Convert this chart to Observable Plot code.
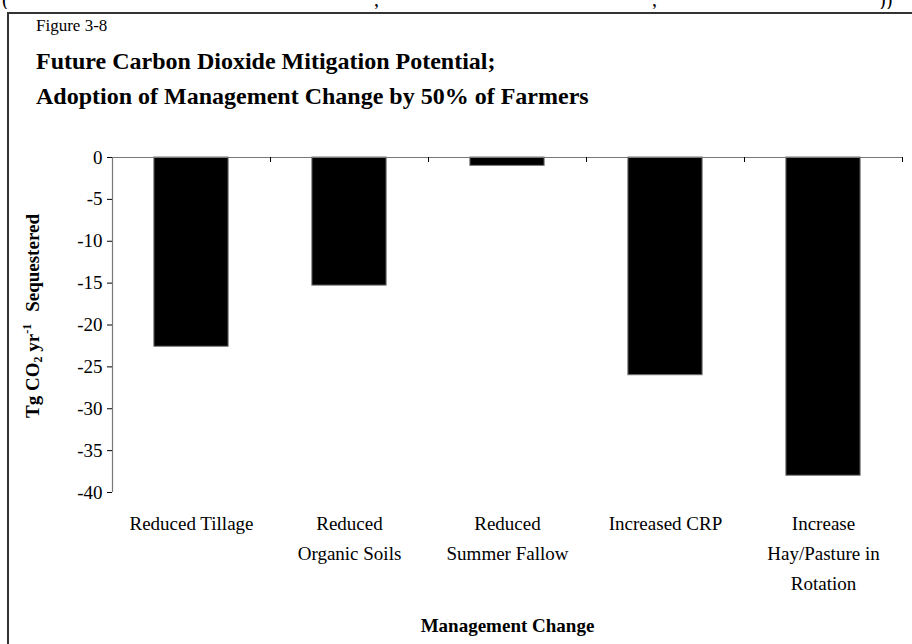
<!DOCTYPE html>
<html>
<head>
<meta charset="utf-8">
<script src="https://cdn.jsdelivr.net/npm/d3@7"></script>
<script src="https://cdn.jsdelivr.net/npm/@observablehq/plot@0.6"></script>
<style>
  html, body { margin: 0; padding: 0; background: white; }
  #page { position: relative; width: 912px; height: 644px; overflow: hidden; font-family: "Liberation Serif", "Times New Roman", serif; color: black; background: white; }
  .abs { position: absolute; white-space: nowrap; line-height: 1; }
  #frame { position: absolute; left: 7px; top: 12px; width: 910px; height: 640px; border-left: 2px solid #333; border-top: 2px solid #333; pointer-events: none; }
  #clip { position: absolute; left: 0; top: 0; width: 912px; height: 9px; overflow: hidden; }
  #clip span { position: absolute; top: -11px; font-size: 20px; line-height: 1; }
  #chart { position: absolute; left: 0; top: 130px; }
  #chart svg text { font-family: "Liberation Serif", "Times New Roman", serif; }
</style>
</head>
<body>
<div id="page">
  <div id="clip"><span style="left:2px">(</span><span style="left:374px">,</span><span style="left:652px">,</span><span style="left:879px">))</span></div>
  <div id="chart"></div>
  <div id="frame"></div>
  <div class="abs" style="left:36px; top:17px; font-size:17px;">Figure 3-8</div>
  <div class="abs" style="left:36px; top:49px; font-size:24px; font-weight:bold;">Future Carbon Dioxide Mitigation Potential;</div>
  <div class="abs" style="left:36px; top:84px; font-size:24px; font-weight:bold;">Adoption of Management Change by 50% of Farmers</div>
</div>
<script>
const categories = [
  "Reduced Tillage",
  "Reduced\nOrganic Soils",
  "Reduced\nSummer Fallow",
  "Increased CRP",
  "Increase\nHay/Pasture in\nRotation"
];
const values = [-22.6, -15.3, -1.0, -26.0, -38.0];
const yTicks = [0, -5, -10, -15, -20, -25, -30, -35, -40];

const data = categories.map((c, i) => ({category: c, index: i, value: values[i]}));
const boundaries = d3.range(1, categories.length + 1);
const half = 0.235;
const serif = "Liberation Serif, Times New Roman, serif";

const plot = Plot.plot({
  width: 912,
  height: 514,
  marginLeft: 112,
  marginRight: 10,
  marginTop: 27,
  marginBottom: 152,
  style: {fontFamily: serif, fontSize: "19px", color: "black", background: "transparent", overflow: "visible"},
  x: {type: "linear", domain: [0, categories.length], axis: null},
  y: {type: "linear", domain: [-40, 0], ticks: yTicks, axis: null},
  marks: [
    Plot.rectY(data, {x1: d => d.index + 0.5 - half, x2: d => d.index + 0.5 + half, y1: 0, y2: "value", fill: "black", stroke: "#777", strokeWidth: 1}),
    Plot.ruleY([0], {stroke: "#777", strokeWidth: 1.2}),
    Plot.ruleX([0], {y1: -40, y2: 0, stroke: "#777", strokeWidth: 1.2}),
    Plot.ruleX(boundaries, {x: d => d, y1: 0, y2: -0.6, stroke: "black", strokeWidth: 1}),
    Plot.axisY({ticks: yTicks, tickSize: 5, tickPadding: 5, tickFormat: d => String(d), fontSize: 19, fontFamily: serif, fontVariant: "normal", stroke: "black", label: null}),
    Plot.text(data, {x: d => d.index + 0.5, y: -40, text: "category", lineAnchor: "top", dy: 16, lineHeight: 1.58, fontSize: 19, fontFamily: serif, fill: "black"}),
    Plot.text(["Management Change"], {x: categories.length / 2, y: -40, text: d => d, lineAnchor: "middle", dy: 133, fontSize: 19, fontFamily: serif, fontWeight: "bold", fill: "black"})
  ]
});

document.getElementById("chart").appendChild(plot);

// Y axis title with subscript and superscript
const svg = d3.select(plot);
const t = svg.append("text")
  .attr("transform", "translate(39,186) rotate(-90)")
  .attr("text-anchor", "middle")
  .attr("font-weight", "bold")
  .attr("font-size", 19)
  .attr("font-family", serif)
  .attr("fill", "black");
t.append("tspan").text("Tg CO");
t.append("tspan").attr("font-size", 12).attr("dy", 3).text("2");
t.append("tspan").attr("dy", -3).text(" yr");
t.append("tspan").attr("font-size", 12).attr("dy", -8).text("-1");
t.append("tspan").attr("dy", 8).attr("dx", 12).text("Sequestered");
</script>
</body>
</html>
